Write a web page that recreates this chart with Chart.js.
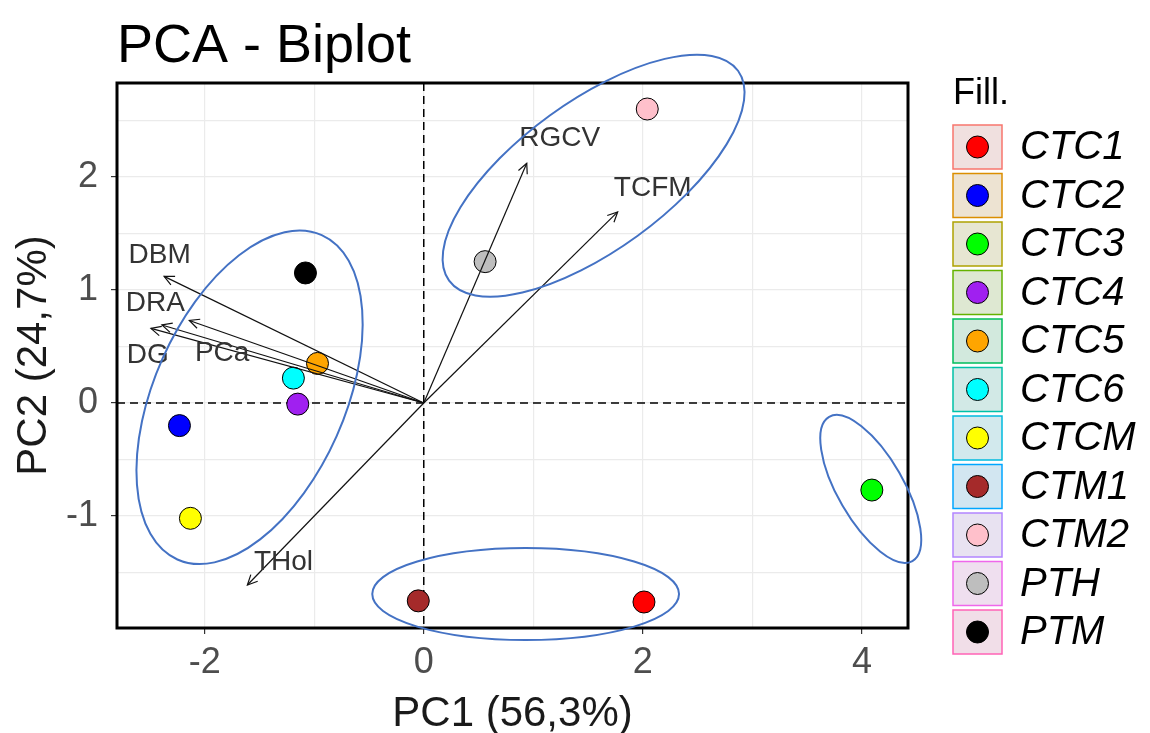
<!DOCTYPE html>
<html>
<head>
<meta charset="utf-8">
<script src="https://cdn.jsdelivr.net/npm/chart.js@4"></script>
<style>
  html, body { margin: 0; padding: 0; background: #fff; }
  #wrap { width: 1150px; height: 733px; }
</style>
</head>
<body>
<div id="wrap"><canvas id="chart-pca"></canvas></div>
<script>
// individuals (scores)
const groups = ['CTC1', 'CTC2', 'CTC3', 'CTC4', 'CTC5', 'CTC6', 'CTCM', 'CTM1', 'CTM2', 'PTH', 'PTM'];
const pc1 = [2.01, -2.23, 4.09, -1.15, -0.97, -1.19, -2.13, -0.05, 2.04, 0.56, -1.08];
const pc2 = [-1.76, -0.20, -0.77, -0.01, 0.35, 0.22, -1.02, -1.75, 2.60, 1.25, 1.15];
const fillColors = ['#ff0000', '#0000ff', '#00ff00', '#a020f0', '#ffa500', '#00ffff', '#ffff00', '#a52a2a', '#ffc0cb', '#bebebe', '#000000'];

// variables (loadings)
const variables = ['DBM', 'DRA', 'DG', 'PCa', 'RGCV', 'TCFM', 'THol'];
const loadX = [-2.37, -2.39, -2.49, -2.14, 0.94, 1.77, -1.61];
const loadY = [1.12, 0.69, 0.66, 0.73, 2.12, 1.69, -1.61];
const labelX = [-2.41, -2.45, -2.52, -1.84, 1.24, 2.09, -1.28];
const labelY = [1.31, 0.88, 0.42, 0.44, 2.34, 1.90, -1.41];

// axes
const xTicks = [-2, -1, 0, 1, 2, 3, 4];
const yTicks = [-1.5, -1, -0.5, 0, 0.5, 1, 1.5, 2, 2.5];

// hand drawn group ellipses (centre in data units, radii in x units, rotation deg)
const ellipses = [
    { cx: -1.59, cy: 0.05, rx: 1.62, ry: 0.87, rot: -66 },
    { cx: 1.55, cy: 2.01, rx: 1.63, ry: 0.68, rot: -36 },
    { cx: 4.08, cy: -0.76, rx: 0.76, ry: 0.30, rot: 60 },
    { cx: 0.93, cy: -1.69, rx: 1.40, ry: 0.42, rot: 0 }
];

const legendBorders = ['#F8766D', '#DB8E00', '#AEA200', '#64B200', '#00BD5C', '#00C1A7', '#00BADE', '#00A6FF', '#B385FF', '#EF67EB', '#FF63B6'];

Chart.defaults.font.family = "'Liberation Sans', Arial, sans-serif";

const datasets = [];
groups.forEach((g, i) => {
    datasets.push({
        type: 'scatter',
        label: g,
        data: [{ x: pc1[i], y: pc2[i] }],
        backgroundColor: fillColors[i],
        borderColor: '#000',
        borderWidth: 1,
        pointRadius: 11,
        pointHoverRadius: 11,
        order: 2
    });
});
variables.forEach((v, i) => {
    datasets.push({
        type: 'line',
        label: v,
        data: [{ x: 0, y: 0 }, { x: loadX[i], y: loadY[i] }],
        borderColor: '#111',
        borderWidth: 1.2,
        pointRadius: 0,
        fill: false,
        order: 1
    });
});

const biplotExtras = {
    id: 'biplotExtras',
    beforeDatasetsDraw(chart) {
        const { ctx, chartArea: a, scales: { x, y } } = chart;
        ctx.save();
        ctx.strokeStyle = '#000';
        ctx.lineWidth = 1.5;
        ctx.setLineDash([8, 5]);
        ctx.beginPath();
        ctx.moveTo(x.getPixelForValue(0), a.top);
        ctx.lineTo(x.getPixelForValue(0), a.bottom);
        ctx.moveTo(a.left, y.getPixelForValue(0));
        ctx.lineTo(a.right, y.getPixelForValue(0));
        ctx.stroke();
        ctx.restore();
    },
    afterDatasetsDraw(chart) {
        const { ctx, scales: { x, y } } = chart;
        const x0 = x.getPixelForValue(0), y0 = y.getPixelForValue(0);
        ctx.save();
        ctx.strokeStyle = '#111';
        ctx.lineWidth = 1.2;
        variables.forEach((v, i) => {
            const px = x.getPixelForValue(loadX[i]);
            const py = y.getPixelForValue(loadY[i]);
            const ang = Math.atan2(py - y0, px - x0);
            const len = 11;
            ctx.beginPath();
            ctx.moveTo(px - len * Math.cos(ang - 0.45), py - len * Math.sin(ang - 0.45));
            ctx.lineTo(px, py);
            ctx.lineTo(px - len * Math.cos(ang + 0.45), py - len * Math.sin(ang + 0.45));
            ctx.stroke();
        });
        ctx.fillStyle = '#333';
        ctx.font = "28px 'Liberation Sans', Arial";
        ctx.textAlign = 'center';
        ctx.textBaseline = 'middle';
        variables.forEach((v, i) => {
            ctx.fillText(v, x.getPixelForValue(labelX[i]), y.getPixelForValue(labelY[i]));
        });
        ctx.restore();
    },
    afterDraw(chart) {
        const { ctx, chartArea: a, scales: { x, y } } = chart;
        const ppu = x.getPixelForValue(1) - x.getPixelForValue(0);
        ctx.save();
        // panel border
        ctx.strokeStyle = '#000';
        ctx.lineWidth = 3;
        ctx.strokeRect(a.left, a.top, a.right - a.left, a.bottom - a.top);

        // title
        ctx.fillStyle = '#000';
        ctx.font = "54px 'Liberation Sans', Arial";
        ctx.textAlign = 'left';
        ctx.textBaseline = 'alphabetic';
        ctx.fillText('PCA - Biplot', a.left, 62);

        // ellipses
        ctx.strokeStyle = '#4472c4';
        ctx.lineWidth = 2;
        ellipses.forEach(e => {
            ctx.beginPath();
            ctx.ellipse(x.getPixelForValue(e.cx), y.getPixelForValue(e.cy), e.rx * ppu, e.ry * ppu,
                e.rot * Math.PI / 180, 0, Math.PI * 2);
            ctx.stroke();
        });

        // legend
        const lx = 953, top = 147, step = 48.5;
        ctx.font = "36px 'Liberation Sans', Arial";
        ctx.fillStyle = '#000';
        ctx.textBaseline = 'middle';
        ctx.fillText('Fill.', lx, 94);
        groups.forEach((g, i) => {
            const cy = top + i * step;
            ctx.fillStyle = '#efefef';
            ctx.fillRect(lx, cy - 22, 49, 44);
            ctx.globalAlpha = 0.12;
            ctx.fillStyle = legendBorders[i];
            ctx.fillRect(lx, cy - 22, 49, 44);
            ctx.globalAlpha = 1;
            ctx.strokeStyle = legendBorders[i];
            ctx.lineWidth = 1.5;
            ctx.strokeRect(lx, cy - 22, 49, 44);
            ctx.beginPath();
            ctx.arc(lx + 24.5, cy, 11, 0, Math.PI * 2);
            ctx.fillStyle = fillColors[i];
            ctx.fill();
            ctx.strokeStyle = '#000';
            ctx.lineWidth = 1;
            ctx.stroke();
            ctx.fillStyle = '#000';
            ctx.font = "italic 40px 'Liberation Sans', Arial";
            ctx.fillText(g, 1020, cy + 1);
        });
        ctx.restore();
    }
};

const ctx = document.getElementById('chart-pca').getContext('2d');
const chart = new Chart(ctx, {
    data: { datasets: datasets },
    options: {
        responsive: true,
        maintainAspectRatio: false,
        animation: false,
        layout: { padding: { top: 83, right: 242, bottom: 0, left: 0 } },
        plugins: {
            legend: { display: false },
            tooltip: { enabled: false },
            title: { display: false }
        },
        scales: {
            x: {
                type: 'linear',
                min: -2.8,
                max: 4.42,
                afterBuildTicks: scale => { scale.ticks = xTicks.map(v => ({ value: v })); },
                afterFit: scale => { scale.height = 105; },
                grid: {
                    color: '#ebebeb',
                    lineWidth: 1.2,
                    tickLength: 6,
                    tickColor: c => (c.tick && c.tick.value % 2 === 0) ? '#333' : 'rgba(0,0,0,0)'
                },
                border: { display: false },
                ticks: {
                    color: '#4d4d4d',
                    font: { size: 36 },
                    padding: 7,
                    maxRotation: 0,
                    callback: v => (v % 2 === 0 ? String(v) : '')
                },
                title: {
                    display: true,
                    text: 'PC1 (56,3%)',
                    color: '#1a1a1a',
                    font: { size: 42, lineHeight: 0.9 },
                    padding: { top: 0, bottom: 0 }
                }
            },
            y: {
                type: 'linear',
                min: -1.99,
                max: 2.83,
                afterBuildTicks: scale => { scale.ticks = yTicks.map(v => ({ value: v })); },
                afterFit: scale => { scale.width = 117; },
                grid: {
                    color: '#ebebeb',
                    lineWidth: 1.2,
                    tickLength: 6,
                    tickColor: c => (c.tick && Number.isInteger(c.tick.value)) ? '#333' : 'rgba(0,0,0,0)'
                },
                border: { display: false },
                ticks: {
                    color: '#4d4d4d',
                    font: { size: 36 },
                    padding: 13,
                    callback: v => (Number.isInteger(v) ? String(v) : '')
                },
                title: {
                    display: true,
                    text: 'PC2 (24,7%)',
                    color: '#1a1a1a',
                    font: { size: 42, lineHeight: 0.9 },
                    padding: { top: 16, bottom: 0 }
                }
            }
        }
    },
    plugins: [biplotExtras]
});
</script>
</body>
</html>
